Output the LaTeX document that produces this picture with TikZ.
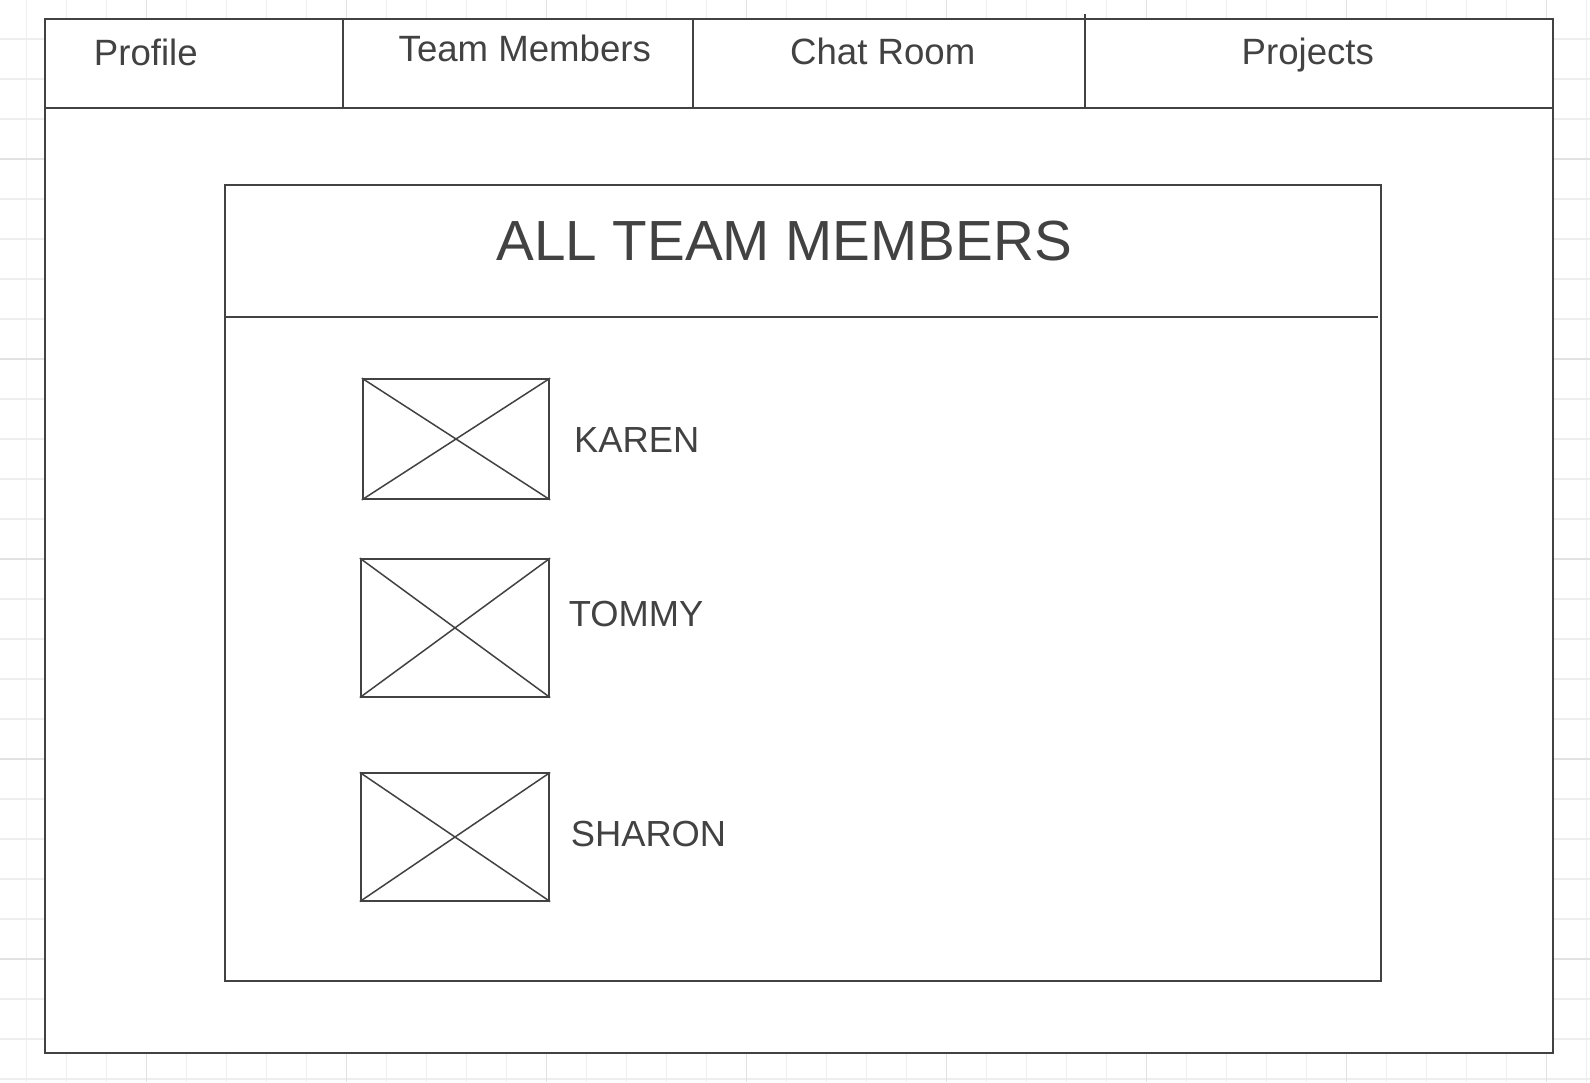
\documentclass[tikz,border=0pt]{standalone}
\usepackage{fontspec}
\setmainfont{Liberation Sans}
\definecolor{ink}{HTML}{424242}
\definecolor{gridminor}{HTML}{EEEEEE}
\definecolor{gridmajor}{HTML}{E2E2E2}
\begin{document}
\begin{tikzpicture}[x=1pt,y=-1pt,
  frame/.style={draw=ink,line width=2pt},
  imgbox/.style={draw=ink,line width=1.7pt,inner sep=0pt,rectangle},
  xline/.style={draw=ink,line width=1.5pt},
  tablabel/.style={anchor=base west,inner sep=0pt,text=ink,font=\fontsize{36.6}{44}\selectfont},
  namelabel/.style={anchor=base west,inner sep=0pt,text=ink,font=\fontsize{36.3}{44}\selectfont},
  titlelabel/.style={anchor=base west,inner sep=0pt,text=ink,font=\fontsize{56.6}{66}\selectfont}]
\useasboundingbox (0,0) rectangle (1590,1082);
\fill[white] (0,0) rectangle (1590,1082);
% grid
\foreach \i in {0,...,39} {\draw[gridminor,line width=1.5pt] ({26.7+40*\i},0) -- ({26.7+40*\i},1082);}
\foreach \j in {1,...,27} {\draw[gridminor,line width=1.5pt] (0,{-1+40*\j}) -- (1590,{-1+40*\j});}
\foreach \i in {3,8,...,38} {\draw[gridmajor,line width=1.5pt] ({26.7+40*\i},0) -- ({26.7+40*\i},1082);}
\foreach \j in {4,9,...,24} {\draw[gridmajor,line width=1.5pt] (0,{-1+40*\j}) -- (1590,{-1+40*\j});}
% outer window
\coordinate (owNW) at (45,19);
\coordinate (owSE) at (1552.7,1052.7);
\fill[white] (owNW) rectangle (owSE);
\draw[frame] (owNW) rectangle (owSE);
\coordinate (barL) at (45,108.3);
\coordinate (barR) at (1552.7,108.3);
\draw[frame] (barL) -- (barR);
\coordinate (d1t) at (342.7,19); \coordinate (d1b) at (342.7,108.3);
\coordinate (d2t) at (692.7,19); \coordinate (d2b) at (692.7,108.3);
\coordinate (d3t) at (1085,14.3); \coordinate (d3b) at (1085,108.3);
\draw[frame] (d1t) -- (d1b);
\draw[frame] (d2t) -- (d2b);
\draw[frame] (d3t) -- (d3b);
% tab labels
\node[tablabel] (tprofile) at (93.7,65.7) {Profile};
\node[tablabel] (tteam) at (398.5,61.7) {Team Members};
\node[tablabel] (tchat) at (790,64) {Chat Room};
\node[tablabel] (tproj) at (1241.5,64) {Projects};
% inner panel
\coordinate (ipNW) at (224.7,185);
\coordinate (ipSE) at (1381,980.7);
\draw[frame] (ipNW) rectangle (ipSE);
\coordinate (hlL) at (224.7,316.7);
\coordinate (hlR) at (1377.7,316.7);
\draw[frame] (hlL) -- (hlR);
\node[titlelabel] (title) at (496.2,260.7) {ALL TEAM MEMBERS};
% member image placeholders
\node[imgbox,minimum width=186.6pt,minimum height=120pt] (ik) at (456,439) {};
\node[imgbox,minimum width=188.6pt,minimum height=137.7pt] (it) at (455,627.85) {};
\node[imgbox,minimum width=188.6pt,minimum height=127.4pt] (is) at (455,837) {};
\foreach \n in {ik,it,is} {
  \draw[xline] (\n.north west) -- (\n.south east);
  \draw[xline] (\n.south west) -- (\n.north east);
}
% names
\node[namelabel] (nk) at (574,452.3) {KAREN};
\node[namelabel] (nt) at (568.7,626.7) {TOMMY};
\node[namelabel] (ns) at (570.7,846) {SHARON};
\end{tikzpicture}
\end{document}
